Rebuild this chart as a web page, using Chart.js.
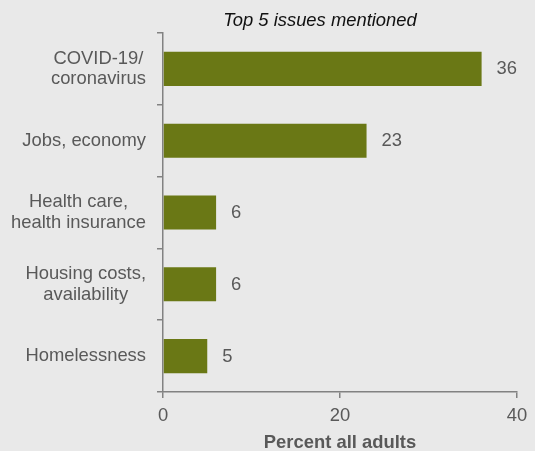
<!DOCTYPE html>
<html>
<head>
<meta charset="utf-8">
<script src="https://cdn.jsdelivr.net/npm/chart.js@4"></script>
<style>
  html, body { margin: 0; padding: 0; background: #e9e9e9; }
  #wrap { width: 535px; height: 451px; }
</style>
</head>
<body>
<div id="wrap"><canvas id="c" width="535" height="451"></canvas></div>
<script>
const chartTitle = 'Top 5 issues mentioned';
const categories = [
  ['COVID-19/', 'coronavirus'],
  ['Jobs, economy'],
  ['Health care,', 'health insurance'],
  ['Housing costs,', 'availability'],
  ['Homelessness']
];
const percents = [36, 23, 6, 6, 5];
const xTicks = [0, 20, 40];
const xAxisTitle = 'Percent all adults';

const FONT = '"Liberation Sans", Arial, Helvetica, sans-serif';
const FONT_SIZE = 18.4;
const GREY_TEXT = '#595959';
const AXIS = '#828282';

const backgroundPlugin = {
  id: 'bg',
  beforeDraw(chart) {
    const ctx = chart.ctx;
    ctx.save();
    ctx.fillStyle = '#e9e9e9';
    ctx.fillRect(0, 0, chart.width, chart.height);
    ctx.restore();
  }
};

const headingPlugin = {
  id: 'heading',
  afterDraw(chart) {
    const ctx = chart.ctx;
    ctx.save();
    ctx.font = 'italic ' + FONT_SIZE + 'px ' + FONT;
    ctx.fillStyle = '#111111';
    ctx.textAlign = 'center';
    ctx.textBaseline = 'middle';
    ctx.fillText(chartTitle, 320, 20.5);
    ctx.restore();
  }
};

// Category labels: each block sits right-aligned against the axis,
// with its lines centred on one another.
const categoryLabels = {
  id: 'categoryLabels',
  afterDraw(chart) {
    const ctx = chart.ctx;
    const yScale = chart.scales.y;
    const rightEdge = yScale.right - 6 - 11;
    const lineGap = 20.5;
    ctx.save();
    ctx.font = FONT_SIZE + 'px ' + FONT;
    ctx.fillStyle = GREY_TEXT;
    ctx.textAlign = 'center';
    ctx.textBaseline = 'middle';
    categories.forEach((lines, i) => {
      const cy = yScale.getPixelForValue(i);
      const widest = Math.max(...lines.map(l => ctx.measureText(l).width));
      const cx = rightEdge - widest / 2;
      lines.forEach((line, j) => {
        const y = cy + (j - (lines.length - 1) / 2) * lineGap;
        ctx.fillText(line, cx, y);
      });
    });
    ctx.restore();
  }
};

const valueLabels = {
  id: 'valueLabels',
  afterDatasetsDraw(chart) {
    const ctx = chart.ctx;
    const meta = chart.getDatasetMeta(0);
    ctx.save();
    ctx.font = FONT_SIZE + 'px ' + FONT;
    ctx.fillStyle = GREY_TEXT;
    ctx.textAlign = 'left';
    ctx.textBaseline = 'middle';
    meta.data.forEach((bar, i) => {
      ctx.fillText(String(percents[i]), bar.x + 15, bar.y + 0.5);
    });
    ctx.restore();
  }
};

new Chart(document.getElementById('c'), {
  type: 'bar',
  data: {
    labels: categories.map(l => l.join(' ')),
    datasets: [{
      data: percents,
      backgroundColor: '#6a7815',
      borderWidth: 0,
      barPercentage: 0.475,
      categoryPercentage: 1
    }]
  },
  options: {
    indexAxis: 'y',
    responsive: false,
    animation: false,
    devicePixelRatio: 1,
    layout: { padding: { top: 33, right: 18, bottom: 0, left: 0 } },
    plugins: {
      legend: { display: false },
      title: { display: false },
      tooltip: { enabled: false }
    },
    scales: {
      x: {
        min: 0,
        max: 40,
        afterBuildTicks(scale) { scale.ticks = xTicks.map(v => ({ value: v })); },
        afterFit(scale) { scale.height = 59; },
        grid: { drawOnChartArea: false, drawTicks: true, tickLength: 6, color: AXIS, lineWidth: 1.5 },
        border: { display: true, color: AXIS, width: 1.5 },
        ticks: { color: GREY_TEXT, font: { family: FONT, size: FONT_SIZE }, padding: 7, maxRotation: 0 },
        title: {
          display: true,
          text: xAxisTitle,
          color: GREY_TEXT,
          font: { family: FONT, size: FONT_SIZE, weight: 'bold' },
          padding: { top: 0, bottom: -2.5 }
        }
      },
      y: {
        offset: true,
        afterFit(scale) { scale.width = 163; },
        grid: { offset: true, drawOnChartArea: false, drawTicks: true, tickLength: 6, color: AXIS, lineWidth: 1.5 },
        border: { display: true, color: AXIS, width: 1.5 },
        ticks: { display: false, autoSkip: false }
      }
    }
  },
  plugins: [backgroundPlugin, headingPlugin, categoryLabels, valueLabels]
});
</script>
</body>
</html>
